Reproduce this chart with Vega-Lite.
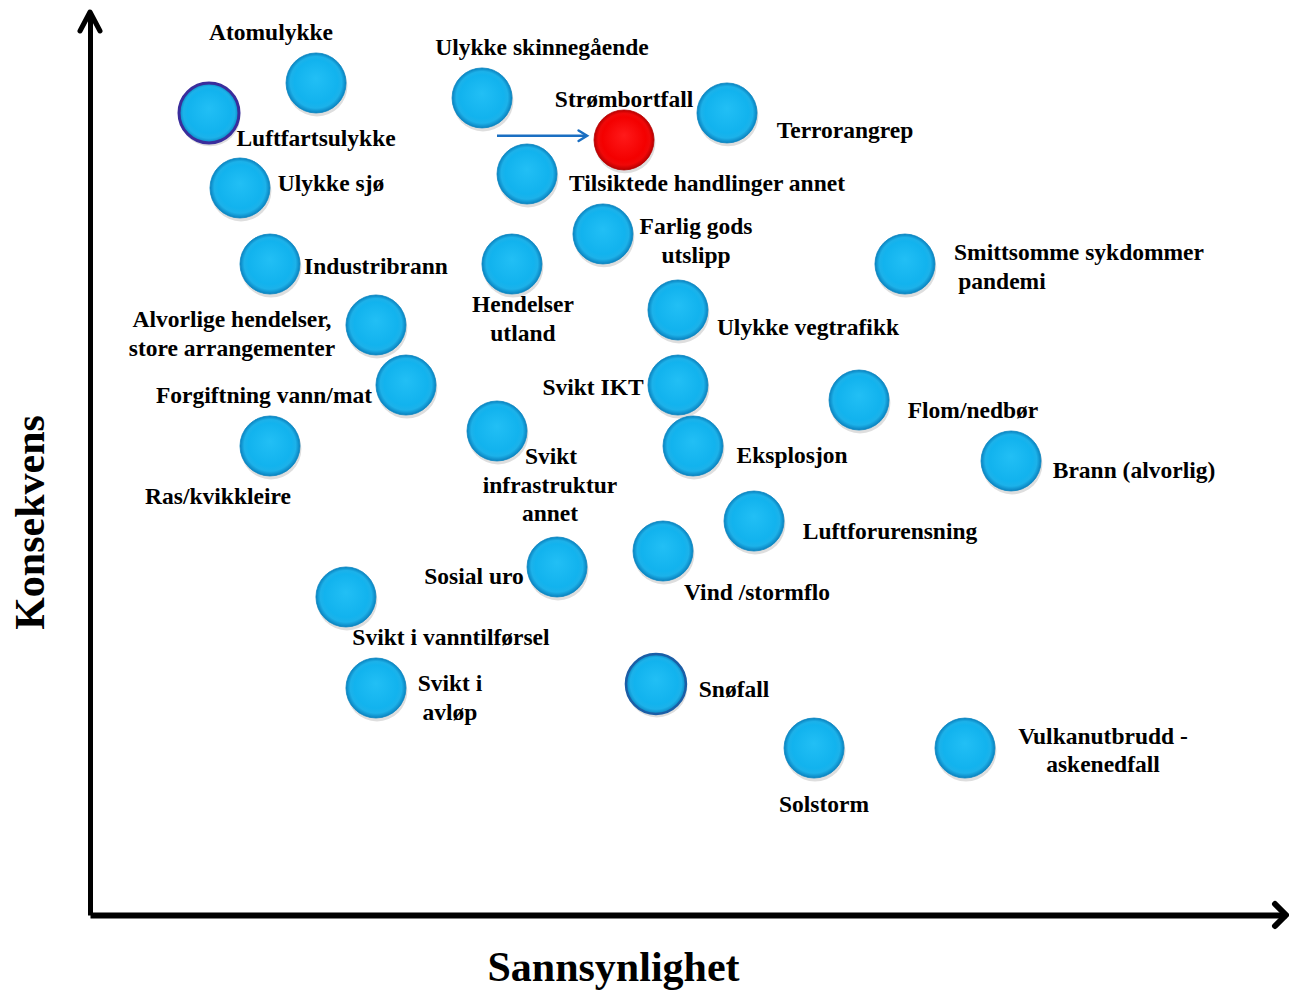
{
  "$schema": "https://vega.github.io/schema/vega-lite/v6.json",
  "width": 1196,
  "height": 903,
  "autosize": {"type": "none"},
  "padding": {"left": 90, "top": 12, "right": 3, "bottom": 75},
  "background": "white",
  "config": {
    "view": {"stroke": null},
    "font": "Liberation Serif",
    "axis": {"labels": false, "ticks": false, "grid": false, "domainColor": "black"}
  },
  "datasets": {
    "hendelser": [
      {"navn": "Atomulykke", "x": 18.90, "y": 92.14},
      {"navn": "Luftfartsulykke", "x": 9.95, "y": 88.82},
      {"navn": "Ulykke skinnegående", "x": 32.78, "y": 90.48},
      {"navn": "Strømbortfall", "x": 44.65, "y": 85.83},
      {"navn": "Terrorangrep", "x": 53.26, "y": 88.82},
      {"navn": "Tilsiktede handlinger annet", "x": 36.54, "y": 82.06},
      {"navn": "Ulykke sjø", "x": 12.54, "y": 80.51},
      {"navn": "Farlig gods utslipp", "x": 42.89, "y": 75.42},
      {"navn": "Industribrann", "x": 15.05, "y": 72.09},
      {"navn": "Hendelser utland", "x": 35.28, "y": 72.09},
      {"navn": "Smittsomme sykdommer pandemi", "x": 68.14, "y": 72.09},
      {"navn": "Alvorlige hendelser, store arrangementer", "x": 23.91, "y": 65.34},
      {"navn": "Ulykke vegtrafikk", "x": 49.16, "y": 67.0},
      {"navn": "Forgiftning vann/mat", "x": 26.42, "y": 58.69},
      {"navn": "Svikt IKT", "x": 49.16, "y": 58.69},
      {"navn": "Flom/nedbør", "x": 64.30, "y": 57.03},
      {"navn": "Ras/kvikkleire", "x": 15.05, "y": 51.94},
      {"navn": "Svikt infrastruktur annet", "x": 34.03, "y": 53.60},
      {"navn": "Eksplosjon", "x": 50.42, "y": 51.94},
      {"navn": "Brann (alvorlig)", "x": 77.01, "y": 50.28},
      {"navn": "Luftforurensning", "x": 55.52, "y": 43.63},
      {"navn": "Sosial uro", "x": 39.05, "y": 38.54},
      {"navn": "Vind /stormflo", "x": 47.91, "y": 40.31},
      {"navn": "Svikt i vanntilførsel", "x": 21.40, "y": 35.22},
      {"navn": "Svikt i avløp", "x": 23.91, "y": 25.14},
      {"navn": "Snøfall", "x": 47.32, "y": 25.58},
      {"navn": "Solstorm", "x": 60.54, "y": 18.49},
      {"navn": "Vulkanutbrudd - askenedfall", "x": 73.16, "y": 18.49}
    ],
    "etiketter": [
      {"tekst": "Atomulykke", "x": 15.13, "y": 97.67},
      {"tekst": "Luftfartsulykke", "x": 18.90, "y": 85.94},
      {"tekst": "Ulykke skinnegående", "x": 37.79, "y": 96.01},
      {"tekst": "Strømbortfall", "x": 44.65, "y": 90.25},
      {"tekst": "Terrorangrep", "x": 63.13, "y": 86.82},
      {"tekst": "Tilsiktede handlinger annet", "x": 51.59, "y": 80.95},
      {"tekst": "Ulykke sjø", "x": 20.15, "y": 80.95},
      {"tekst": "Farlig gods", "x": 50.67, "y": 76.19},
      {"tekst": "utslipp", "x": 50.67, "y": 72.98},
      {"tekst": "Industribrann", "x": 23.91, "y": 71.76},
      {"tekst": "Hendelser", "x": 36.20, "y": 67.55},
      {"tekst": "utland", "x": 36.20, "y": 64.34},
      {"tekst": "Smittsomme sykdommer", "x": 82.69, "y": 73.31},
      {"tekst": "pandemi", "x": 76.25, "y": 70.10},
      {"tekst": "Alvorlige hendelser,", "x": 11.87, "y": 65.89},
      {"tekst": "store arrangementer", "x": 11.87, "y": 62.68},
      {"tekst": "Ulykke vegtrafikk", "x": 60.03, "y": 65.01},
      {"tekst": "Forgiftning vann/mat", "x": 14.55, "y": 57.48},
      {"tekst": "Svikt IKT", "x": 42.06, "y": 58.36},
      {"tekst": "Flom/nedbør", "x": 73.83, "y": 55.81},
      {"tekst": "Ras/kvikkleire", "x": 10.70, "y": 46.29},
      {"tekst": "Svikt", "x": 38.55, "y": 50.72},
      {"tekst": "infrastruktur", "x": 38.46, "y": 47.51},
      {"tekst": "annet", "x": 38.46, "y": 44.41},
      {"tekst": "Eksplosjon", "x": 58.70, "y": 50.83},
      {"tekst": "Brann (alvorlig)", "x": 87.29, "y": 49.17},
      {"tekst": "Luftforurensning", "x": 66.89, "y": 42.41},
      {"tekst": "Sosial uro", "x": 32.11, "y": 37.43},
      {"tekst": "Vind /stormflo", "x": 55.77, "y": 35.66},
      {"tekst": "Svikt i vanntilførsel", "x": 30.18, "y": 30.68},
      {"tekst": "Svikt i", "x": 30.10, "y": 25.58},
      {"tekst": "avløp", "x": 30.10, "y": 22.37},
      {"tekst": "Snøfall", "x": 53.85, "y": 24.92},
      {"tekst": "Solstorm", "x": 61.37, "y": 12.18},
      {"tekst": "Vulkanutbrudd  -", "x": 84.70, "y": 19.71},
      {"tekst": "askenedfall", "x": 84.70, "y": 16.61}
    ],
    "pil": [{"x": 34.03, "x2": 41.56, "y": 86.30}],
    "aksepiler": [
      {"akse": "Konsekvens", "x": 0, "y": 100},
      {"akse": "Sannsynlighet", "x": 100, "y": 0}
    ]
  },
  "layer": [
    {
      "data": {"name": "hendelser"},
      "mark": {"type": "point", "shape": "circle", "filled": true, "size": 3700, "color": "#000000", "opacity": 0.13, "xOffset": 1, "yOffset": 3, "strokeWidth": 0},
      "encoding": {
        "x": {
          "field": "x", "type": "quantitative",
          "scale": {"domain": [0, 100], "nice": false, "zero": false},
          "axis": {
            "title": "Sannsynlighet", "domainWidth": 6,
            "titleFont": "Liberation Serif", "titleFontSize": 42, "titleFontWeight": "bold", "titleColor": "black",
            "titleX": 523, "titleY": 65, "titleAlign": "center", "titleBaseline": "alphabetic"
          }
        },
        "y": {
          "field": "y", "type": "quantitative",
          "scale": {"domain": [0, 100], "nice": false, "zero": false},
          "axis": {
            "title": "Konsekvens", "domainWidth": 5,
            "titleFont": "Liberation Serif", "titleFontSize": 42, "titleFontWeight": "bold", "titleColor": "black",
            "titleAngle": -90, "titleX": -47, "titleY": 510, "titleAlign": "center", "titleBaseline": "alphabetic"
          }
        }
      }
    },
    {
      "data": {"name": "hendelser"},
      "transform": [{"filter": "datum.navn !== 'Strømbortfall'"}],
      "mark": {
        "type": "point", "shape": "circle", "filled": true, "size": 3600, "opacity": 1,
        "fill": {"gradient": "radial", "x1": 0.5, "y1": 0.42, "r1": 0, "x2": 0.5, "y2": 0.5, "r2": 0.5,
          "stops": [
            {"offset": 0, "color": "#22bff5"},
            {"offset": 0.72, "color": "#12b3ee"},
            {"offset": 0.86, "color": "#1cb2ea"},
            {"offset": 1, "color": "#0a82bf"}
          ]}
      },
      "encoding": {
        "x": {"field": "x", "type": "quantitative"},
        "y": {"field": "y", "type": "quantitative"},
        "stroke": {
          "condition": [
            {"test": "datum.navn === 'Luftfartsulykke'", "value": "#3a2d9c"},
            {"test": "datum.navn === 'Snøfall'", "value": "#1b5ea6"}
          ],
          "value": "#0b86c2"
        },
        "strokeWidth": {
          "condition": [
            {"test": "datum.navn === 'Luftfartsulykke'", "value": 3},
            {"test": "datum.navn === 'Snøfall'", "value": 2.5}
          ],
          "value": 0.8
        }
      }
    },
    {
      "data": {"name": "hendelser"},
      "transform": [{"filter": "datum.navn === 'Strømbortfall'"}],
      "mark": {
        "type": "point", "shape": "circle", "filled": true, "size": 3600, "opacity": 1,
        "stroke": "#b50000", "strokeWidth": 0.8,
        "fill": {"gradient": "radial", "x1": 0.5, "y1": 0.42, "r1": 0, "x2": 0.5, "y2": 0.5, "r2": 0.5,
          "stops": [
            {"offset": 0, "color": "#ff1a1a"},
            {"offset": 0.72, "color": "#f40000"},
            {"offset": 0.86, "color": "#f00808"},
            {"offset": 1, "color": "#b80000"}
          ]}
      },
      "encoding": {
        "x": {"field": "x", "type": "quantitative"},
        "y": {"field": "y", "type": "quantitative"}
      }
    },
    {
      "data": {"name": "pil"},
      "mark": {"type": "rule", "color": "#1a6fc2", "strokeWidth": 2.5},
      "encoding": {
        "x": {"field": "x", "type": "quantitative"},
        "x2": {"field": "x2"},
        "y": {"field": "y", "type": "quantitative"}
      }
    },
    {
      "data": {"name": "pil"},
      "mark": {"type": "point", "shape": "M-1.7,-1.05L0,0L-1.7,1.05", "filled": false, "size": 100, "stroke": "#1a6fc2", "strokeWidth": 2.5, "opacity": 1, "strokeCap": "round", "strokeJoin": "miter"},
      "encoding": {
        "x": {"field": "x2", "type": "quantitative"},
        "y": {"field": "y", "type": "quantitative"}
      }
    },
    {
      "data": {"name": "aksepiler"},
      "transform": [{"filter": "datum.akse === 'Konsekvens'"}],
      "mark": {"type": "point", "shape": "M-1,1.9L0,0L1,1.9", "filled": false, "size": 400, "stroke": "black", "strokeWidth": 5, "opacity": 1, "strokeCap": "round", "strokeJoin": "round"},
      "encoding": {
        "x": {"field": "x", "type": "quantitative"},
        "y": {"field": "y", "type": "quantitative"}
      }
    },
    {
      "data": {"name": "aksepiler"},
      "transform": [{"filter": "datum.akse === 'Sannsynlighet'"}],
      "mark": {"type": "point", "shape": "M-1.1,-1.1L0,0L-1.1,1.1", "filled": false, "size": 400, "stroke": "black", "strokeWidth": 6, "opacity": 1, "strokeCap": "round", "strokeJoin": "round"},
      "encoding": {
        "x": {"field": "x", "type": "quantitative"},
        "y": {"field": "y", "type": "quantitative"}
      }
    },
    {
      "data": {"name": "etiketter"},
      "mark": {"type": "text", "font": "Liberation Serif", "fontWeight": "bold", "fontSize": 23.5, "align": "center", "baseline": "middle", "color": "black"},
      "encoding": {
        "x": {"field": "x", "type": "quantitative"},
        "y": {"field": "y", "type": "quantitative"},
        "text": {"field": "tekst"}
      }
    }
  ]
}
